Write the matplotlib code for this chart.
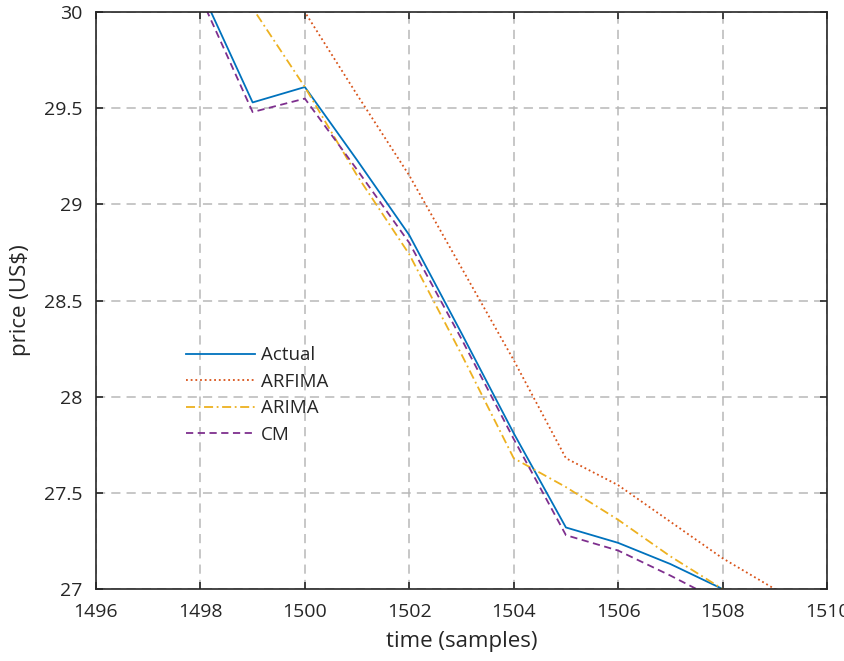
import numpy as np
import matplotlib
matplotlib.use('Agg')
import matplotlib.pyplot as plt

plt.rcParams['font.family'] = ['Open Sans', 'DejaVu Sans']

t = [1498, 1499, 1500, 1501, 1502, 1503, 1504, 1505, 1506, 1507, 1508, 1509, 1510]
actual = [30.12, 29.53, 29.61, 29.23, 28.84, 28.33, 27.81, 27.32, 27.24, 27.13, 27.00, 26.90, 26.80]
arfima = [30.80, 30.40, 30.00, 29.57, 29.15, 28.67, 28.19, 27.68, 27.54, 27.35, 27.16, 27.00, 26.85]
arima = [30.50, 30.02, 29.61, 29.15, 28.74, 28.22, 27.68, 27.53, 27.36, 27.17, 27.00, 26.85, 26.70]
cm = [30.08, 29.48, 29.55, 29.18, 28.80, 28.30, 27.78, 27.28, 27.20, 27.07, 26.93, 26.80, 26.70]

xticks = [1496, 1498, 1500, 1502, 1504, 1506, 1508, 1510]
yticks = [27, 27.5, 28, 28.5, 29, 29.5, 30]

fig = plt.figure(figsize=(8.45, 6.61), dpi=100)
ax = fig.add_axes([0.1136, 0.1089, 0.8651, 0.8729])

ax.plot(t, actual, color='#0072BD', lw=1.3, label='Actual')
ax.plot(t, arfima, color='#D95319', lw=1.3, ls=(0, (1, 1.6)), label='ARFIMA')
ax.plot(t, arima, color='#EDB120', lw=1.3, ls=(0, (5, 2, 1, 2)), label='ARIMA')
ax.plot(t, cm, color='#7E2F8E', lw=1.3, ls=(0, (4, 2.5)), label='CM')

ax.set_xlim(1496, 1510)
ax.set_ylim(27, 30)
ax.set_xticks(xticks)
ax.set_yticks(yticks)
ax.set_yticklabels(['27', '27.5', '28', '28.5', '29', '29.5', '30'])

ax.grid(True, color='#b8b8b8', ls=(0, (6, 4)), lw=1.1)
ax.set_axisbelow(True)
ax.tick_params(direction='in', length=5, width=1.2, top=True, right=True,
               labelsize=14, colors='#262626', pad=10)
for s in ax.spines.values():
    s.set_color('#262626')
    s.set_linewidth(1.2)

ax.set_xlabel('time (samples)', fontsize=16, color='#262626', labelpad=7)
ax.set_ylabel('price (US$)', fontsize=16, color='#262626', labelpad=9)

leg = ax.legend(loc='upper left', bbox_to_anchor=(0.1, 0.45), frameon=False,
                fontsize=13.5, handlelength=3.7, handletextpad=0.3, labelspacing=0.45)
for txt in leg.get_texts():
    txt.set_color('#262626')

fig.savefig('out.png', dpi=100)
